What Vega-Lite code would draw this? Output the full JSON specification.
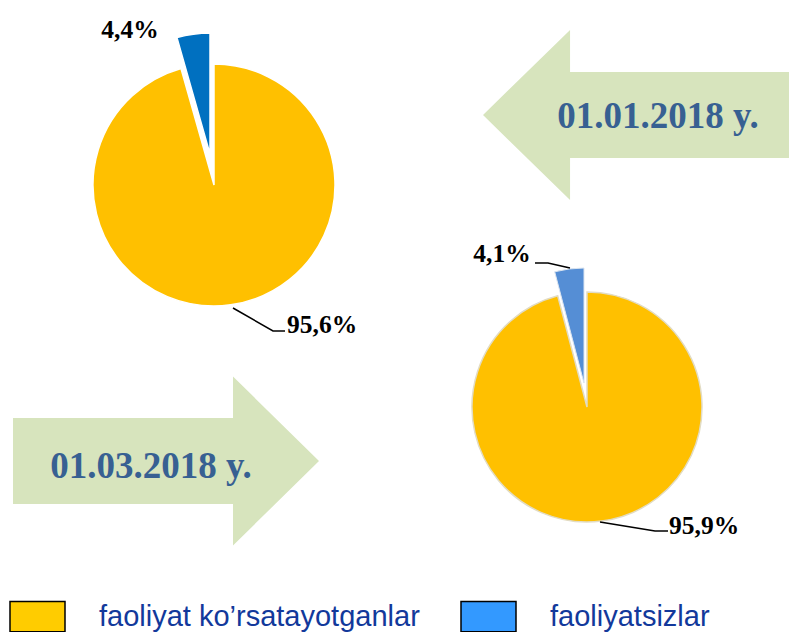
{
  "$schema": "https://vega.github.io/schema/vega-lite/v6.json",
  "width": 789,
  "height": 632,
  "autosize": "none",
  "padding": 0,
  "background": "white",
  "config": {
    "view": {"stroke": null},
    "locale": {"number": {"decimal": ",", "thousands": " ", "grouping": [3], "currency": ["", ""]}}
  },
  "data": {
    "values": [
      {"date": "01.01.2018 y.", "cat": "faoliyat ko’rsatayotganlar", "share": 0.956},
      {"date": "01.01.2018 y.", "cat": "faoliyatsizlar", "share": 0.044},
      {"date": "01.03.2018 y.", "cat": "faoliyat ko’rsatayotganlar", "share": 0.959},
      {"date": "01.03.2018 y.", "cat": "faoliyatsizlar", "share": 0.041}
    ]
  },
  "encoding": {
    "x": {"field": "date", "type": "nominal", "axis": null,
      "scale": {"type": "point", "domain": ["01.01.2018 y.", "01.03.2018 y."], "range": [214, 587], "padding": 0}},
    "y": {"field": "date", "type": "nominal", "axis": null,
      "scale": {"type": "point", "domain": ["01.01.2018 y.", "01.03.2018 y."], "range": [185, 407], "padding": 0}}
  },
  "layer": [
    {
      "transform": [{"filter": "datum.date == '01.01.2018 y.' && datum.cat == 'faoliyatsizlar'"}],
      "mark": {"type": "point", "shape": "M -1 0 L -0.431 -0.556 L -0.431 -0.281 L 1 -0.281 L 1 0.281 L -0.431 0.281 L -0.431 0.556 Z",
        "size": 93636, "filled": true, "fill": "#d7e4bd", "stroke": null, "opacity": 1, "xOffset": 422, "yOffset": -70}
    },
    {
      "transform": [{"filter": "datum.date == '01.03.2018 y.' && datum.cat == 'faoliyatsizlar'"}],
      "mark": {"type": "point", "shape": "M 1 0 L 0.438 -0.552 L 0.438 -0.281 L -1 -0.281 L -1 0.281 L 0.438 0.281 L 0.438 0.552 Z",
        "size": 93636, "filled": true, "fill": "#d7e4bd", "stroke": null, "opacity": 1, "xOffset": -421, "yOffset": 54}
    },
    {
      "transform": [{"filter": "datum.date == '01.01.2018 y.' && datum.cat != 'faoliyatsizlar'"}],
      "mark": {"type": "arc", "radius": 121, "fill": "#ffc000", "stroke": "white", "strokeWidth": 1.5},
      "encoding": {
        "theta": {"field": "share", "type": "quantitative", "stack": null, "scale": {"domain": [0, 1], "range": [0, 6.283185307179586]}},
        "theta2": {"datum": 0}
      }
    },
    {
      "transform": [{"filter": "datum.date == '01.03.2018 y.' && datum.cat != 'faoliyatsizlar'"}],
      "mark": {"type": "arc", "radius": 115, "fill": "#ffc000", "stroke": "#e2dcc4", "strokeWidth": 1.5},
      "encoding": {
        "theta": {"field": "share", "type": "quantitative", "stack": null, "scale": {"domain": [0, 1], "range": [0, 6.283185307179586]}},
        "theta2": {"datum": 0}
      }
    },
    {
      "transform": [{"filter": "datum.date == '01.01.2018 y.' && datum.cat == 'faoliyatsizlar'"}],
      "mark": {"type": "arc", "radius": 121, "fill": "#0070c0", "stroke": "white", "strokeWidth": 1.5, "xOffset": -4, "yOffset": -31},
      "encoding": {
        "theta": {"field": "share", "type": "quantitative", "stack": null, "scale": {"domain": [0, 1], "range": [6.283185307179586, 0]}},
        "theta2": {"datum": 0}
      }
    },
    {
      "transform": [{"filter": "datum.date == '01.03.2018 y.' && datum.cat == 'faoliyatsizlar'"}],
      "mark": {"type": "arc", "radius": 115, "fill": "#558ed5", "stroke": "#dce5f0", "strokeWidth": 1, "xOffset": -3, "yOffset": -24},
      "encoding": {
        "theta": {"field": "share", "type": "quantitative", "stack": null, "scale": {"domain": [0, 1], "range": [6.283185307179586, 0]}},
        "theta2": {"datum": 0}
      }
    },
    {
      "transform": [{"filter": "datum.date == '01.01.2018 y.' && datum.cat != 'faoliyatsizlar'"}],
      "mark": {"type": "point", "shape": "M 19 123 L 59 146 L 71 146", "size": 4, "filled": false, "fill": null, "stroke": "black", "strokeWidth": 1.5, "opacity": 1}
    },
    {
      "transform": [{"filter": "datum.date == '01.03.2018 y.' && datum.cat != 'faoliyatsizlar'"}],
      "mark": {"type": "point", "shape": "M 13 115 L 68 124 L 81 124", "size": 4, "filled": false, "fill": null, "stroke": "black", "strokeWidth": 1.5, "opacity": 1}
    },
    {
      "transform": [{"filter": "datum.date == '01.03.2018 y.' && datum.cat == 'faoliyatsizlar'"}],
      "mark": {"type": "point", "shape": "M -52 -144 L -39 -144 L -17 -139", "size": 4, "filled": false, "fill": null, "stroke": "black", "strokeWidth": 1.5, "opacity": 1}
    },
    {
      "transform": [{"filter": "datum.date == '01.01.2018 y.' && datum.cat == 'faoliyatsizlar'"}],
      "mark": {"type": "text", "font": "Liberation Serif", "fontWeight": "bold", "fontSize": 25.5, "color": "black", "align": "center", "baseline": "alphabetic", "dx": -84, "dy": -147},
      "encoding": {"text": {"field": "share", "type": "quantitative", "format": ".1%"}}
    },
    {
      "transform": [{"filter": "datum.date == '01.01.2018 y.' && datum.cat != 'faoliyatsizlar'"}],
      "mark": {"type": "text", "font": "Liberation Serif", "fontWeight": "bold", "fontSize": 25.5, "color": "black", "align": "left", "baseline": "alphabetic", "dx": 73, "dy": 148},
      "encoding": {"text": {"field": "share", "type": "quantitative", "format": ".1%"}}
    },
    {
      "transform": [{"filter": "datum.date == '01.03.2018 y.' && datum.cat == 'faoliyatsizlar'"}],
      "mark": {"type": "text", "font": "Liberation Serif", "fontWeight": "bold", "fontSize": 25.5, "color": "black", "align": "center", "baseline": "alphabetic", "dx": -85, "dy": -145},
      "encoding": {"text": {"field": "share", "type": "quantitative", "format": ".1%"}}
    },
    {
      "transform": [{"filter": "datum.date == '01.03.2018 y.' && datum.cat != 'faoliyatsizlar'"}],
      "mark": {"type": "text", "font": "Liberation Serif", "fontWeight": "bold", "fontSize": 25.5, "color": "black", "align": "left", "baseline": "alphabetic", "dx": 82, "dy": 127},
      "encoding": {"text": {"field": "share", "type": "quantitative", "format": ".1%"}}
    },
    {
      "transform": [{"filter": "datum.date == '01.01.2018 y.' && datum.cat == 'faoliyatsizlar'"}],
      "mark": {"type": "text", "font": "Liberation Serif", "fontWeight": "bold", "fontSize": 37, "color": "#376092", "align": "center", "baseline": "alphabetic", "dx": 444, "dy": -57},
      "encoding": {"text": {"field": "date", "type": "nominal"}}
    },
    {
      "transform": [{"filter": "datum.date == '01.03.2018 y.' && datum.cat == 'faoliyatsizlar'"}],
      "mark": {"type": "text", "font": "Liberation Serif", "fontWeight": "bold", "fontSize": 37, "color": "#376092", "align": "center", "baseline": "alphabetic", "dx": -436, "dy": 71},
      "encoding": {"text": {"field": "date", "type": "nominal"}}
    },
    {
      "transform": [{"filter": "false"}],
      "mark": {"type": "point", "shape": "M -1 -0.55 L 1 -0.55 L 1 0.55 L -1 0.55 Z", "filled": true, "stroke": "black", "strokeWidth": 1.5, "opacity": 1},
      "encoding": {
        "fill": {"field": "cat", "type": "nominal",
          "scale": {"domain": ["faoliyat ko’rsatayotganlar", "faoliyatsizlar"], "range": ["#ffcc00", "#3399ff"]},
          "legend": {"orient": "none", "legendX": 9, "legendY": 588, "direction": "horizontal", "title": null,
            "symbolType": "M -1 -0.55 L 1 -0.55 L 1 0.55 L -1 0.55 Z", "symbolSize": 3025,
            "symbolStrokeColor": "black", "symbolStrokeWidth": 1.5, "symbolOpacity": 1,
            "labelFont": "Liberation Sans", "labelFontSize": 29, "labelColor": "#12399b",
            "labelOffset": 33, "columnPadding": 38, "labelLimit": 500, "padding": 0, "symbolOffset": 0}
        }
      }
    }
  ],
  "resolve": {"scale": {"theta": "independent"}}
}
